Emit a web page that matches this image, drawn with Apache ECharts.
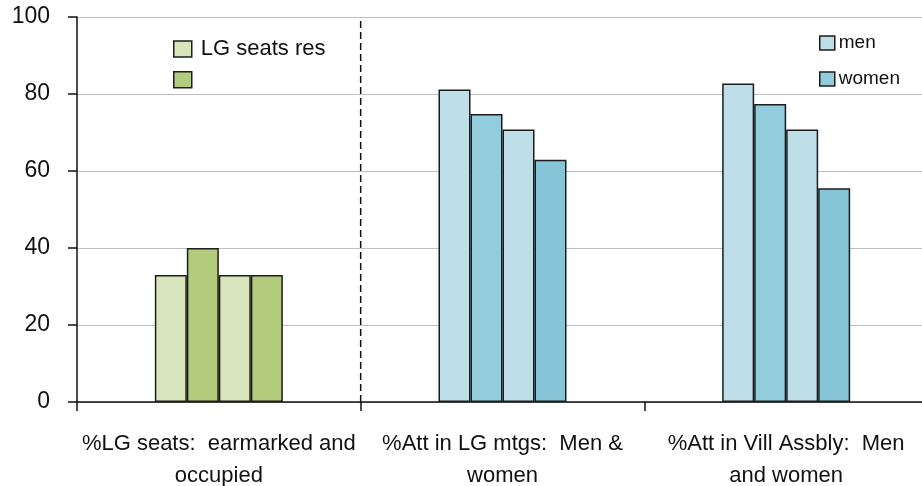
<!DOCTYPE html>
<html>
<head>
<meta charset="utf-8">
<script src="https://cdn.jsdelivr.net/npm/echarts@6/dist/echarts.min.js"></script>
<style>
  html, body { margin: 0; padding: 0; background: #fff; }
  #chart { width: 922px; height: 486px; }
</style>
</head>
<body>
<div id="chart"></div>
<script>
// Category labels along the x axis
const categories = [
  '%LG seats:  earmarked and\noccupied',
  '%Att in LG mtgs:  Men &\nwomen',
  '%Att in Vill Assbly:  Men\nand women'
];

// Four bars per category (light / dark / light / dark)
const barA = [33, 81.2, 82.7];
const barB = [40, 74.8, 77.4];
const barC = [33, 70.8, 70.8];
const barD = [33, 62.9, 55.5];

// Y axis scale
const yMin = 0;
const yMax = 100;
const yStep = 20;

// Boundary (in category units) where the dashed divider sits
const dividerAt = 1;

// Colours: first category is green, the other two blue
const greenLight = '#D8E4BC';
const greenMid = '#B3CB7D';
const greenDark = '#B2CA7C';
const blueLight = '#BFDFE8';
const blueMid = '#93CDDD';
const blueDark = '#86C5D8';
const edge = '#1c1c1c';

const FONT = '"Liberation Sans", Arial, sans-serif';

function barSeries(name, values, blue, green) {
  return {
    name: name,
    type: 'bar',
    xAxisIndex: 0,
    barWidth: 32,
    barGap: '0%',
    itemStyle: { color: blue, borderColor: edge, borderWidth: 1.5 },
    data: values.map(function (v, i) {
      return i === 0
        ? { value: v, itemStyle: { color: green, borderColor: edge, borderWidth: 1.5 } }
        : { value: v };
    })
  };
}

const chart = echarts.init(document.getElementById('chart'), null, { renderer: 'canvas' });

chart.setOption({
  animation: false,
  backgroundColor: '#fff',
  grid: {
    left: 77, top: 17, bottom: 84, right: -6,
    containLabel: false,
    outerBoundsMode: 'none'
  },
  legend: [
    {
      orient: 'vertical',
      left: 168, top: 33,
      icon: 'rect',
      itemWidth: 18, itemHeight: 16,
      itemGap: 11,
      selectedMode: false,
      textStyle: { fontFamily: FONT, fontSize: 22, lineHeight: 22, color: '#111', padding: [0, 0, 0, 4] },
      formatter: function (name) { return name === 'LG seats res' ? name : ''; },
      data: [
        { name: 'LG seats res', itemStyle: { color: greenLight, borderColor: edge, borderWidth: 1.5 } },
        { name: 'LG seats occupied', itemStyle: { color: greenMid, borderColor: edge, borderWidth: 1.5 } }
      ]
    },
    {
      orient: 'vertical',
      left: 814, top: 28,
      icon: 'rect',
      itemWidth: 15, itemHeight: 14,
      itemGap: 16,
      selectedMode: false,
      textStyle: { fontFamily: FONT, fontSize: 19, lineHeight: 20, color: '#111', padding: [0, 0, 0, -1] },
      data: [
        { name: 'men', itemStyle: { color: blueLight, borderColor: edge, borderWidth: 1.5 } },
        { name: 'women', itemStyle: { color: blueMid, borderColor: edge, borderWidth: 1.5 } }
      ]
    }
  ],
  xAxis: [
    {
      type: 'category',
      data: categories,
      boundaryGap: true,
      axisLine: { lineStyle: { color: '#111', width: 1.5 } },
      axisTick: { show: true, length: 9, lineStyle: { color: '#111', width: 1.5 } },
      axisLabel: {
        interval: 0,
        margin: 26,
        fontFamily: FONT,
        fontSize: 22,
        lineHeight: 32,
        color: '#111',
        align: 'center'
      },
      splitLine: { show: false }
    },
    {
      type: 'value',
      min: 0,
      max: categories.length,
      show: false
    }
  ],
  yAxis: {
    type: 'value',
    min: yMin,
    max: yMax,
    interval: yStep,
    axisLine: { show: true, lineStyle: { color: '#111', width: 1.5 } },
    axisTick: { show: true, inside: false, length: 9, lineStyle: { color: '#111', width: 1.5 } },
    axisLabel: { margin: 27, fontFamily: FONT, fontSize: 23, color: '#111' },
    splitLine: { show: true, lineStyle: { color: '#BFBFBF', width: 1 } }
  },
  series: [
    barSeries('men', barA, blueLight, greenLight),
    barSeries('women', barB, blueMid, greenMid),
    barSeries('men', barC, blueLight, greenLight),
    barSeries('women', barD, blueDark, greenDark),
    {
      name: 'LG seats res',
      type: 'line',
      data: [],
      itemStyle: { color: greenLight, borderColor: edge, borderWidth: 1.5 }
    },
    {
      name: 'LG seats occupied',
      type: 'line',
      data: [],
      itemStyle: { color: greenMid, borderColor: edge, borderWidth: 1.5 }
    },
    {
      name: 'divider',
      type: 'line',
      xAxisIndex: 1,
      symbol: 'none',
      silent: true,
      lineStyle: { color: '#111', width: 1.5, type: [7, 4] },
      data: [[dividerAt, yMin], [dividerAt, yMax]],
      z: 5
    }
  ]
});
</script>
</body>
</html>
